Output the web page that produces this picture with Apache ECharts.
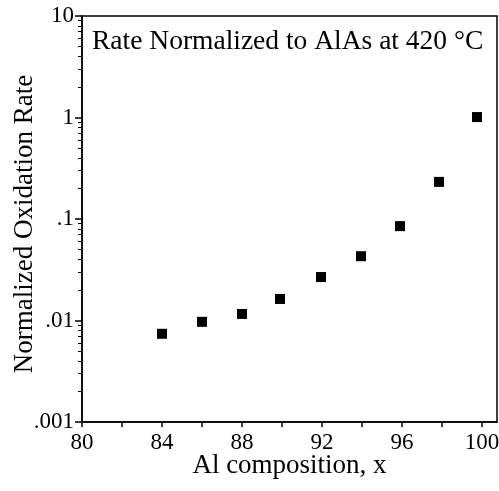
<!DOCTYPE html>
<html>
<head>
<meta charset="utf-8">
<script src="https://cdn.jsdelivr.net/npm/echarts@6/dist/echarts.min.js"></script>
<style>
  html, body { margin: 0; padding: 0; background: #fff; }
  #chart { width: 499px; height: 491px; }
</style>
</head>
<body>
<div id="chart"></div>
<script>
// data
var composition = [84, 86, 88, 89.9, 91.95, 93.95, 95.9, 97.85, 99.75];
var rate = [0.0074, 0.0097, 0.0116, 0.0163, 0.0268, 0.043, 0.085, 0.232, 1.01];

var xTicks = [80, 82, 84, 86, 88, 90, 92, 94, 96, 98, 100];
var xLabels = [80, 84, 88, 92, 96, 100];
var yDecades = [-3, -2, -1, 0, 1];
var yLabels = ['.001', '.01', '.1', '1', '10'];

var FONT = '"Liberation Serif", "DejaVu Serif", serif';

// minor log ticks (2..9 in each decade), in log10 space
var minorTicks = [];
for (var d = -3; d < 1; d++) {
    for (var k = 2; k <= 9; k++) {
        minorTicks.push(d + Math.log10(k));
    }
}

var myChart = echarts.init(document.getElementById('chart'));
var option = {
    animation: false,
    title: {
        text: 'Rate Normalized to AlAs at 420 °C',
        left: 92,
        top: 28,
        padding: 0,
        textStyle: {
            fontFamily: FONT,
            fontSize: 27.5,
            fontWeight: 'normal',
            color: '#000'
        }
    },
    grid: {
        left: 82,
        right: 2,
        top: 16,
        bottom: 69,
        show: true,
        borderColor: '#000',
        borderWidth: 1.5,
        containLabel: false,
        outerBoundsMode: 'none'
    },
    xAxis: {
        type: 'value',
        min: 80,
        max: 100.75,
        name: 'Al composition, x',
        nameLocation: 'middle',
        nameGap: 30,
        nameMoveOverlap: false,
        nameTextStyle: { fontFamily: FONT, fontSize: 27, color: '#000' },
        axisLine: { onZero: false, lineStyle: { color: '#000', width: 1.5 } },
        axisTick: { customValues: xTicks, length: 5, lineStyle: { color: '#000', width: 1.5 } },
        axisLabel: {
            customValues: xLabels,
            margin: 9,
            fontFamily: FONT,
            fontSize: 23,
            color: '#000'
        },
        splitLine: { show: false }
    },
    yAxis: [{
        type: 'log',
        logBase: 10,
        min: 0.001,
        max: 10,
        name: 'Normalized Oxidation Rate',
        nameLocation: 'middle',
        nameGap: 44,
        nameMoveOverlap: false,
        nameTextStyle: { fontFamily: FONT, fontSize: 27, color: '#000', padding: [0, 10, 0, 0] },
        axisLine: { lineStyle: { color: '#000', width: 1.5 } },
        axisTick: { length: 7, lineStyle: { color: '#000', width: 1.5 } },
        axisLabel: {
            margin: 8,
            fontFamily: FONT,
            fontSize: 23,
            color: '#000',
            formatter: function (v) {
                var i = yDecades.indexOf(Math.round(Math.log10(v)));
                return i >= 0 ? yLabels[i] : '';
            }
        },
        splitLine: { show: false }
    }, {
        // minor log ticks only
        type: 'value',
        min: -3,
        max: 1,
        position: 'left',
        axisLine: { show: false },
        axisTick: { customValues: minorTicks, length: 4, lineStyle: { color: '#000', width: 1 } },
        axisLabel: { show: false },
        splitLine: { show: false }
    }],
    series: [{
        type: 'scatter',
        yAxisIndex: 0,
        symbol: 'rect',
        symbolSize: 10,
        itemStyle: { color: '#000', opacity: 1 },
        data: composition.map(function (x, i) { return [x, rate[i]]; })
    }]
};
myChart.setOption(option);
</script>
</body>
</html>
